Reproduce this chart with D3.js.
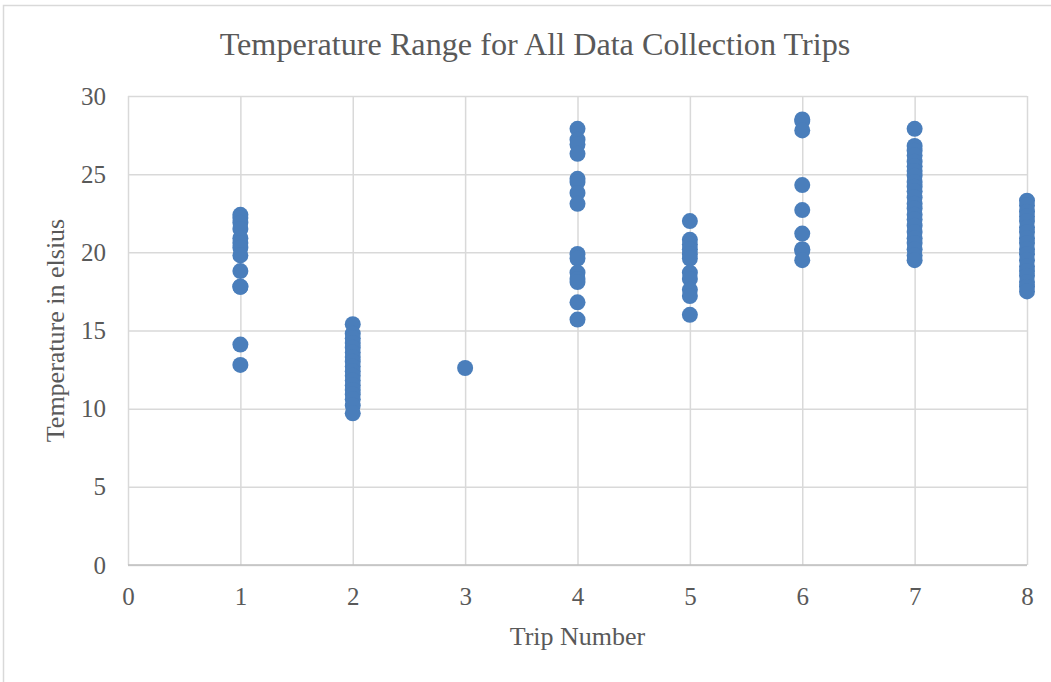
<!DOCTYPE html>
<html>
<head>
<meta charset="utf-8">
<script src="https://cdn.jsdelivr.net/npm/d3@7/dist/d3.min.js"></script>
<style>
  html, body { margin: 0; padding: 0; background: #fff; }
  svg { display: block; }
  text { font-family: "Liberation Serif", "Times New Roman", serif; fill: #595959; }
</style>
</head>
<body>
<svg id="chart" width="1051" height="682"></svg>
<script>
// Temperature readings (°C) recorded on each data collection trip
const trip1 = [22.4, 22.2, 21.9, 21.5, 20.9, 20.6, 20.3, 19.8, 18.8, 17.8, 17.8, 14.1, 12.8];
const trip2 = [15.4, 14.8, 14.5, 14.2, 13.9, 13.6, 13.3, 13.0, 12.7, 12.4, 12.1, 11.8, 11.5, 11.2, 10.9, 10.6, 10.2, 9.7];
const trip3 = [12.6];
const trip4 = [27.9, 27.2, 26.9, 26.3, 24.7, 24.5, 23.8, 23.1, 19.9, 19.6, 18.7, 18.3, 18.1, 16.8, 15.7];
const trip5 = [22.0, 20.8, 20.5, 20.2, 19.9, 19.6, 18.7, 18.3, 17.6, 17.2, 16.0];
const trip6 = [28.5, 28.4, 27.8, 24.3, 22.7, 21.2, 20.2, 20.1, 19.5];
const trip7 = [27.9, 26.8, 26.5, 26.2, 25.8, 25.5, 25.2, 24.9, 24.5, 24.2, 23.9, 23.5, 23.1, 22.8, 22.4, 22.1, 21.7, 21.3, 20.9, 20.6, 20.2, 19.8, 19.5];
const trip8 = [23.3, 23.0, 22.6, 22.3, 22.0, 21.6, 21.3, 20.9, 20.6, 20.2, 19.9, 19.5, 19.1, 18.8, 18.5, 18.1, 17.8, 17.5];

const tripTemps = [trip1, trip2, trip3, trip4, trip5, trip6, trip7, trip8];
const xTicks = [0, 1, 2, 3, 4, 5, 6, 7, 8];
const yTicks = [0, 5, 10, 15, 20, 25, 30];

const points = tripTemps.flatMap((temps, i) => temps.map(t => ({ trip: i + 1, temp: t })));

const svg = d3.select("#chart");
const plot = { left: 128, right: 1027, top: 96, bottom: 565 };

const x = d3.scaleLinear().domain([0, 8]).range([plot.left, plot.right]);
const y = d3.scaleLinear().domain([0, 30]).range([plot.bottom, plot.top]);

// outer chart frame
svg.append("rect")
  .attr("x", 3.5).attr("y", 5.5)
  .attr("width", 1100).attr("height", 700)
  .attr("fill", "none").attr("stroke", "#d9d9d9").attr("stroke-width", 1.5);

// horizontal gridlines
const yAxis = d3.axisLeft(y).tickValues(yTicks).tickSize(-(plot.right - plot.left)).tickPadding(22).tickFormat(d3.format("d"));
const gy = svg.append("g").attr("transform", `translate(${plot.left},0)`).call(yAxis);
gy.select(".domain").remove();
gy.selectAll(".tick line").attr("stroke", "#d9d9d9").attr("stroke-width", 1.5);
gy.selectAll(".tick text").attr("font-size", 25).attr("fill", "#595959")
  .attr("font-family", "Liberation Serif, Times New Roman, serif");

// vertical gridlines
const xAxis = d3.axisBottom(x).tickValues(xTicks).tickSize(-(plot.bottom - plot.top)).tickPadding(22).tickFormat(d3.format("d"));
const gx = svg.append("g").attr("transform", `translate(0,${plot.bottom})`).call(xAxis);
gx.select(".domain").remove();
gx.selectAll(".tick line").attr("stroke", "#d9d9d9").attr("stroke-width", 1.5);
gx.selectAll(".tick text").attr("font-size", 25).attr("fill", "#595959")
  .attr("font-family", "Liberation Serif, Times New Roman, serif");

// baseline along y = 0
svg.append("line")
  .attr("x1", plot.left).attr("x2", plot.right)
  .attr("y1", y(0)).attr("y2", y(0))
  .attr("stroke", "#bfbfbf").attr("stroke-width", 1.5);

// temperature markers
svg.append("g").selectAll("circle")
  .data(points)
  .join("circle")
  .attr("cx", d => x(d.trip))
  .attr("cy", d => y(d.temp))
  .attr("r", 8)
  .attr("fill", "#4a7ebb");

// titles
svg.append("text")
  .attr("x", 535).attr("y", 55)
  .attr("text-anchor", "middle")
  .attr("font-size", 32.2)
  .text("Temperature Range for All Data Collection Trips");

svg.append("text")
  .attr("x", (plot.left + plot.right) / 2).attr("y", 645)
  .attr("text-anchor", "middle")
  .attr("font-size", 26)
  .text("Trip Number");

svg.append("text")
  .attr("transform", `translate(64,${(plot.top + plot.bottom) / 2}) rotate(-90)`)
  .attr("text-anchor", "middle")
  .attr("font-size", 26)
  .text("Temperature in elsius");
</script>
</body>
</html>
